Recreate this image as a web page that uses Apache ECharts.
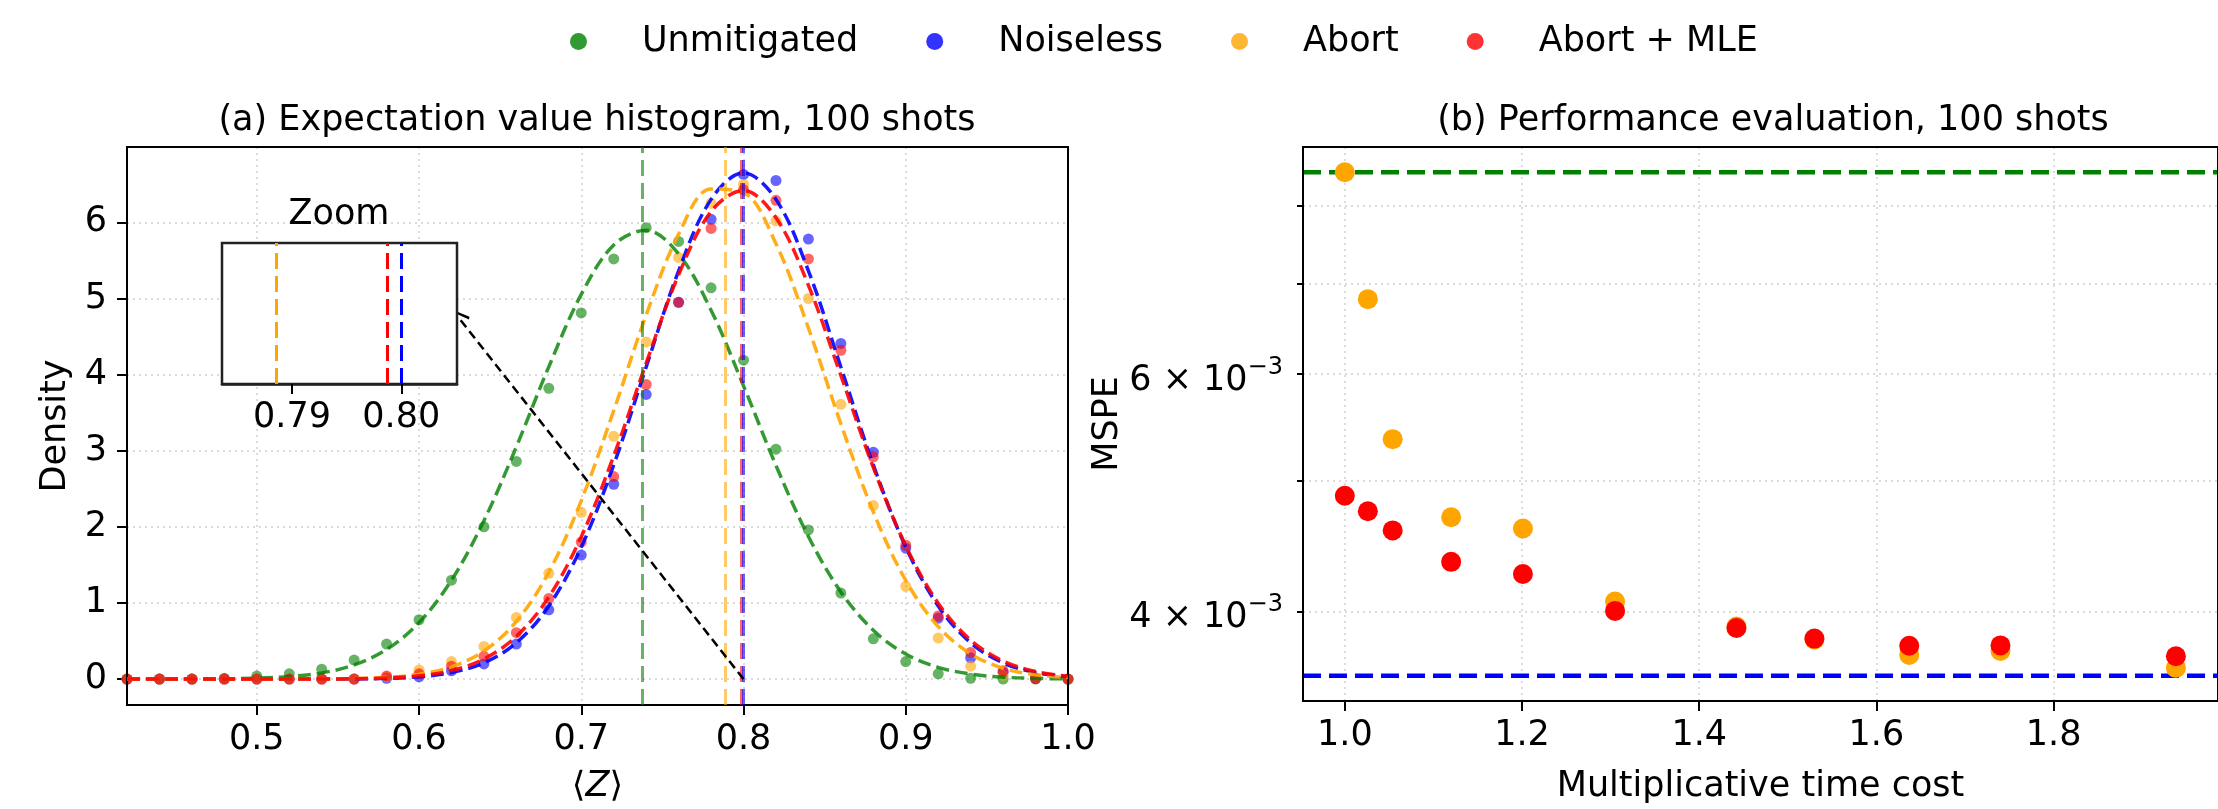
<!DOCTYPE html>
<html><head><meta charset="utf-8">
<script src="https://cdn.jsdelivr.net/npm/echarts@6/dist/echarts.min.js"></script>
<style>html,body{margin:0;padding:0;background:#fff}#c{width:2218px;height:809px}</style>
</head><body><div id="c"></div>
<script>
// ---------- Panel (a): histogram of expectation values ----------
const bins = [0.42,0.44,0.46,0.48,0.50,0.52,0.54,0.56,0.58,0.60,0.62,0.64,0.66,0.68,0.70,0.72,0.74,0.76,0.78,0.80,0.82,0.84,0.86,0.88,0.90,0.92,0.94,0.96,0.98,1.00];
const unmitigatedHist = [0,0,0,0.01,0.04,0.07,0.13,0.25,0.46,0.78,1.30,2.00,2.86,3.82,4.81,5.52,5.93,5.75,5.14,4.19,3.02,1.96,1.13,0.53,0.23,0.07,0.01,0,0,0];
const noiselessHist   = [0,0,0,0,0,0,0,0,0.01,0.03,0.11,0.20,0.46,0.91,1.63,2.56,3.74,4.95,6.04,6.63,6.55,5.78,4.41,2.98,1.72,0.80,0.28,0.09,0.01,0];
const abortHist       = [0,0,0,0,0,0,0,0,0.03,0.12,0.23,0.43,0.81,1.39,2.19,3.19,4.43,5.54,6.25,6.50,6.02,5.00,3.61,2.28,1.22,0.54,0.17,0.05,0.02,0];
const abortMleHist    = [0,0,0,0,0,0,0,0,0.04,0.07,0.17,0.30,0.61,1.06,1.80,2.66,3.87,4.95,5.92,6.43,6.29,5.52,4.32,2.92,1.76,0.83,0.35,0.11,0.01,0];
const unmitigatedFit = [0.0001,0.0004,0.0013,0.0041,0.012,0.033,0.082,0.187,0.389,0.743,1.299,2.081,3.053,4.104,5.054,5.703,5.896,5.585,4.846,3.853,2.807,1.873,1.145,0.642,0.329,0.155,0.067,0.026,0.0095,0.0032];
const noiselessFit   = [0,0,0,0,0,0.0002,0.0008,0.0029,0.010,0.031,0.086,0.213,0.477,0.960,1.735,2.814,4.100,5.363,6.302,6.65,6.302,5.363,4.100,2.814,1.735,0.960,0.477,0.213,0.086,0.031];
const abortFit       = [0,0,0,0,0.0001,0.0006,0.0021,0.0073,0.023,0.064,0.162,0.369,0.759,1.405,2.345,3.528,4.783,5.845,6.438,6.391,5.719,4.612,3.353,2.196,1.297,0.690,0.331,0.143,0.056,0.020];
const abortMleFit    = [0,0,0,0,0.0001,0.0003,0.0013,0.0047,0.015,0.043,0.113,0.265,0.562,1.079,1.871,2.931,4.150,5.311,6.142,6.419,6.062,5.173,3.989,2.780,1.751,0.997,0.513,0.238,0.100,0.038];
// fitted means (vertical dashed lines)
const meanNames  = ['Unmitigated','Abort','Abort + MLE','Noiseless'];
const meanValues = [0.7376, 0.7886, 0.7987, 0.8000];
const xTicksA = [0.5,0.6,0.7,0.8,0.9,1.0];
const yTicksA = [0,1,2,3,4,5,6];
const insetRange = [0.7836, 0.8051];
const xTicksInset = [0.79,0.80];
const arrowFrom = [0.80, 0];
const arrowTo   = [0.624, 4.76];

// ---------- Panel (b): performance evaluation ----------
const timeCost      = [1.000,1.026,1.054,1.120,1.201,1.305,1.442,1.530,1.637,1.740,1.938];
const abortMSPE     = [8.47e-3,6.82e-3,5.37e-3,4.70e-3,4.61e-3,4.07e-3,3.90e-3,3.815e-3,3.715e-3,3.74e-3,3.634e-3];
const abortMleMSPE  = [4.875e-3,4.748e-3,4.595e-3,4.355e-3,4.266e-3,4.005e-3,3.89e-3,3.82e-3,3.774e-3,3.776e-3,3.707e-3];
const unmitigatedMSPE = 8.47e-3;
const noiselessMSPE   = 3.585e-3;
const xRangeB = [0.9528, 1.9855];
const yRangeB = [3.434e-3, 8.844e-3];
const xTicksB = [1.0,1.2,1.4,1.6,1.8];
const yTicksB = [4e-3,5e-3,6e-3,7e-3,8e-3];
const yLabelValuesB = [4e-3,6e-3];
const yLabelMantissaB = ['4','6'];

const COLORS = {'Unmitigated':'#008000','Noiseless':'#0000ff','Abort':'#ffa500','Abort + MLE':'#ff0000'};
const FONT = 'DejaVu Sans';
const FS = 35;

const chart = echarts.init(document.getElementById('c'), null, {renderer:'canvas'});
const pair = (xs, ys) => xs.map((x,i)=>[x, ys[i]]);

function histSeries(name, ys){
  return {name, type:'scatter', xAxisIndex:0, yAxisIndex:0, data:pair(bins, ys), symbolSize:11,
    itemStyle:{color:COLORS[name], opacity:0.6}, z:2, silent:true};
}
function fitSeries(name, ys, op){
  return {name:name+' fit', type:'line', xAxisIndex:0, yAxisIndex:0, data:pair(bins, ys), showSymbol:false,
    smooth:0.35, lineStyle:{color:COLORS[name], width:3.5, type:[13,6], opacity:op}, z:3, silent:true};
}
function levelSeries(name, v){
  return {name:name+' level', type:'line', xAxisIndex:1, yAxisIndex:1, data:[[xRangeB[0], v],[xRangeB[1], v]], showSymbol:false,
    lineStyle:{color:COLORS[name], width:4.5, type:[18,8]}, z:2, silent:true};
}
const axisLineStyle = {show:true, onZero:false, lineStyle:{color:'#000', width:2}};
const gridLine = {show:true, lineStyle:{color:'#cfcfcf', width:1.5, type:[2,4]}};
const legendNames = ['Unmitigated','Noiseless','Abort','Abort + MLE'];
const tickLabel = (vals, fmt, margin) => ({customValues:vals, formatter:fmt, fontSize:FS, color:'#000', margin, fontFamily:FONT});

const option = {
  animation:false,
  textStyle:{fontFamily:FONT},
  title:[
    {text:'(a) Expectation value histogram, 100 shots', left:597, top:121, textAlign:'center', textVerticalAlign:'middle', padding:0,
     textStyle:{fontSize:FS, fontWeight:'normal', color:'#000', fontFamily:FONT}},
    {text:'(b) Performance evaluation, 100 shots', left:1773, top:121, textAlign:'center', textVerticalAlign:'middle', padding:0,
     textStyle:{fontSize:FS, fontWeight:'normal', color:'#000', fontFamily:FONT}},
    {text:'Zoom', left:339, top:215, textAlign:'center', textVerticalAlign:'middle', padding:0, z:12,
     textStyle:{fontSize:FS, fontWeight:'normal', color:'#000', fontFamily:FONT}}
  ],
  legend:{left:570, top:24, padding:0, itemWidth:17, itemHeight:17, itemGap:68, icon:'circle', selectedMode:false,
    formatter: n => '{g| }' + n,
    textStyle:{fontSize:FS, color:'#000', fontFamily:FONT, rich:{g:{width:50, fontSize:FS}}},
    data:legendNames.map(n=>({name:n, itemStyle:{color:COLORS[n], opacity:0.8}}))},
  grid:[
    {left:127, top:147, width:941, height:564, show:true, borderColor:'#000', borderWidth:2, backgroundColor:'rgba(0,0,0,0)', z:3},
    {left:1303, top:147, width:941, height:564, show:true, borderColor:'#000', borderWidth:2, backgroundColor:'rgba(0,0,0,0)', z:3},
    {left:222, top:243, width:235, height:141, show:true, borderColor:'#222', borderWidth:2.5, backgroundColor:'#fff', z:8}
  ],
  xAxis:[
    {gridIndex:0, type:'value', min:0.42, max:1.0, axisLine:axisLineStyle,
     axisTick:{show:true, customValues:xTicksA, length:10, lineStyle:{color:'#000', width:2}},
     axisLabel:tickLabel(xTicksA, v=>v.toFixed(1), 17),
     splitLine:gridLine,
     name:'{n|⟨}{i|Z}{n|⟩}', nameLocation:'middle', nameGap:64,
     nameTextStyle:{fontSize:FS, color:'#000', rich:{n:{fontSize:FS, fontFamily:FONT}, i:{fontSize:FS, fontStyle:'italic', fontFamily:FONT}}}},
    {gridIndex:1, type:'value', min:xRangeB[0], max:xRangeB[1], axisLine:axisLineStyle,
     axisTick:{show:true, customValues:xTicksB, length:10, lineStyle:{color:'#000', width:2}},
     axisLabel:tickLabel(xTicksB, v=>v.toFixed(1), 17),
     splitLine:gridLine,
     name:'Multiplicative time cost', nameLocation:'middle', nameGap:68,
     nameTextStyle:{fontSize:FS, color:'#000', fontFamily:FONT}},
    {gridIndex:2, type:'value', min:insetRange[0], max:insetRange[1], z:9, axisLine:{show:true, onZero:false, lineStyle:{color:'#222', width:2.5}},
     axisTick:{show:true, customValues:xTicksInset, length:10, lineStyle:{color:'#000', width:2}},
     axisLabel:tickLabel(xTicksInset, v=>v.toFixed(2), 16),
     splitLine:{show:false}}
  ],
  yAxis:[
    {gridIndex:0, type:'value', min:-0.34, max:6.99, axisLine:axisLineStyle,
     axisTick:{show:true, customValues:yTicksA, length:10, lineStyle:{color:'#000', width:2}},
     axisLabel:tickLabel(yTicksA, v=>String(v), 20),
     splitLine:gridLine,
     name:'Density', nameLocation:'middle', nameGap:54, nameTextStyle:{fontSize:FS, color:'#000', fontFamily:FONT}},
    {gridIndex:1, type:'log', logBase:10, min:yRangeB[0], max:yRangeB[1], axisLine:axisLineStyle,
     axisTick:{show:true, customValues:yTicksB, length:6, lineStyle:{color:'#000', width:2}},
     axisLabel:{customValues:yLabelValuesB,
       formatter:v=>{const k=yLabelValuesB.findIndex(t=>Math.abs(t-v)<1e-9); return k>=0?('{b|'+yLabelMantissaB[k]+' × 10}{s|−3}'):'';},
       color:'#000', margin:20, fontFamily:FONT,
       rich:{b:{fontSize:FS, fontFamily:FONT, color:'#000', padding:[13,0,0,0]}, s:{fontSize:24, fontFamily:FONT, color:'#000', padding:[0,0,13,0]}}},
     splitLine:gridLine,
     name:'MSPE', nameLocation:'middle', nameGap:178, nameTextStyle:{fontSize:FS, color:'#000', fontFamily:FONT}},
    {gridIndex:2, type:'value', min:0, max:1, show:false}
  ],
  series:[
    histSeries('Unmitigated', unmitigatedHist),
    histSeries('Noiseless', noiselessHist),
    histSeries('Abort', abortHist),
    histSeries('Abort + MLE', abortMleHist),
    fitSeries('Unmitigated', unmitigatedFit, 0.8),
    fitSeries('Noiseless', noiselessFit, 0.9),
    fitSeries('Abort', abortFit, 0.9),
    fitSeries('Abort + MLE', abortMleFit, 0.9),
    {name:'means', type:'scatter', xAxisIndex:0, yAxisIndex:0, data:[[meanValues[0],0]], symbolSize:0, z:4, silent:true,
     markLine:{silent:true, symbol:'none', precision:6, label:{show:false}, animation:false, z:4,
       data:meanValues.map((v,i)=>({xAxis:v, lineStyle:{color:COLORS[meanNames[i]], width:3, type:[16,7], opacity:0.6}}))}},
    {name:'arrow', type:'scatter', xAxisIndex:0, yAxisIndex:0, data:[arrowFrom], symbolSize:0, z:5, silent:true,
     markLine:{silent:true, symbol:['none','path://M5,0 L10,9 L8.8,10 L5,2.6 L1.2,10 L0,9 Z'], symbolSize:18, precision:6, label:{show:false}, animation:false, z:5,
       lineStyle:{color:'#000', width:2.5, type:[9,5]},
       data:[[{coord:arrowFrom},{coord:arrowTo}]]}},
    // inset
    {name:'inset', type:'scatter', xAxisIndex:2, yAxisIndex:2, data:[[meanValues[2],0.5]], symbolSize:0, z:12, silent:true,
     markLine:{silent:true, symbol:'none', precision:6, label:{show:false}, animation:false, z:12,
       data:meanValues.map((v,i)=>({v,i})).filter(o=>o.v>insetRange[0] && o.v<insetRange[1])
         .map(o=>({xAxis:o.v, lineStyle:{color:COLORS[meanNames[o.i]], width:3, type:[16,7], opacity:1}}))}},
    // panel (b)
    levelSeries('Unmitigated', unmitigatedMSPE),
    levelSeries('Noiseless', noiselessMSPE),
    {name:'Abort', type:'scatter', xAxisIndex:1, yAxisIndex:1, data:pair(timeCost, abortMSPE), symbolSize:20,
     itemStyle:{color:COLORS['Abort'], opacity:1}, z:5, silent:true},
    {name:'Abort + MLE', type:'scatter', xAxisIndex:1, yAxisIndex:1, data:pair(timeCost, abortMleMSPE), symbolSize:20,
     itemStyle:{color:COLORS['Abort + MLE'], opacity:1}, z:6, silent:true}
  ]
};
chart.setOption(option);
</script></body></html>
